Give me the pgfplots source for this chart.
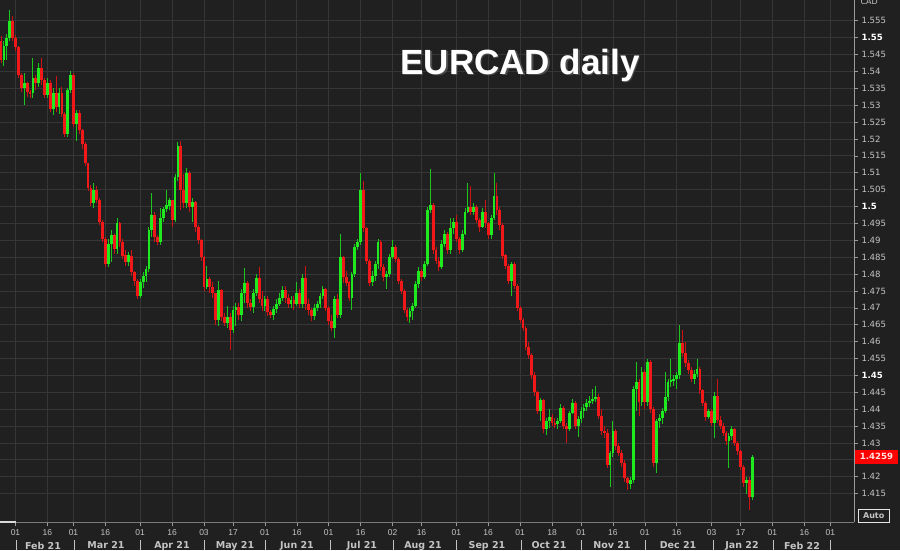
\documentclass[border=0pt]{standalone}
\usepackage{fontspec}
\setmainfont{DejaVu Sans}
\newfontfamily\arialfont{Liberation Sans}
\usepackage{pgfplots}
\usepackage{pgfplotstable}
\pgfplotsset{compat=1.18}
\definecolor{bg}{HTML}{202020}
\definecolor{gridc}{HTML}{363636}
\definecolor{labc}{HTML}{C4C4C4}
\definecolor{cgreen}{HTML}{1FEA1F}
\definecolor{cred}{HTML}{F01818}
\definecolor{axc}{HTML}{9A9A9A}

\pgfplotstableread{
x o h l c
-5 1.5490 1.5505 1.5425 1.5435
-4 1.5435 1.5490 1.5415 1.5475
-3 1.5475 1.5510 1.5435 1.5499
-2 1.5499 1.5581 1.5490 1.5550
-1 1.5550 1.5565 1.5490 1.5500
0 1.5500 1.5508 1.5460 1.5472
1 1.5472 1.5475 1.5380 1.5390
2 1.5390 1.5395 1.5340 1.5350
3 1.5350 1.5395 1.5300 1.5365
4 1.5365 1.5370 1.5325 1.5340
5 1.5340 1.5345 1.5320 1.5335
6 1.5335 1.5440 1.5320 1.5380
7 1.5380 1.5390 1.5345 1.5365
8 1.5365 1.5425 1.5355 1.5410
9 1.5410 1.5440 1.5360 1.5375
10 1.5375 1.5380 1.5320 1.5330
11 1.5330 1.5380 1.5320 1.5365
12 1.5365 1.5375 1.5280 1.5290
13 1.5290 1.5350 1.5270 1.5335
14 1.5335 1.5385 1.5280 1.5295
15 1.5295 1.5350 1.5275 1.5335
16 1.5335 1.5355 1.5265 1.5275
17 1.5275 1.5280 1.5205 1.5215
18 1.5215 1.5350 1.5205 1.5345
19 1.5345 1.5400 1.5335 1.5389
20 1.5389 1.5395 1.5235 1.5244
21 1.5244 1.5285 1.5195 1.5276
22 1.5276 1.5285 1.5215 1.5226
23 1.5226 1.5230 1.5170 1.5185
24 1.5185 1.5190 1.5120 1.5128
25 1.5128 1.5130 1.5045 1.5055
26 1.5055 1.5065 1.5000 1.5011
27 1.5011 1.5070 1.4995 1.5050
28 1.5050 1.5060 1.5010 1.5020
29 1.5020 1.5025 1.4945 1.4955
30 1.4955 1.4960 1.4895 1.4905
31 1.4905 1.4910 1.4820 1.4830
32 1.4830 1.4905 1.4820 1.4890
33 1.4890 1.4930 1.4835 1.4915
34 1.4915 1.4920 1.4860 1.4875
35 1.4875 1.4965 1.4860 1.4950
36 1.4950 1.4955 1.4880 1.4895
37 1.4895 1.4905 1.4845 1.4855
38 1.4855 1.4870 1.4825 1.4835
39 1.4835 1.4865 1.4825 1.4855
40 1.4855 1.4870 1.4795 1.4805
41 1.4805 1.4810 1.4765 1.4780
42 1.4780 1.4785 1.4725 1.4735
43 1.4735 1.4785 1.4730 1.4775
44 1.4775 1.4805 1.4760 1.4795
45 1.4795 1.4825 1.4775 1.4815
46 1.4815 1.4940 1.4805 1.4931
47 1.4931 1.5040 1.4910 1.4975
48 1.4975 1.4985 1.4895 1.4910
49 1.4910 1.4915 1.4885 1.4895
50 1.4895 1.4995 1.4885 1.4965
51 1.4965 1.5000 1.4955 1.4994
52 1.4994 1.5050 1.4985 1.5003
53 1.5003 1.5025 1.4990 1.5018
54 1.5018 1.5020 1.4940 1.4960
55 1.4960 1.5095 1.4955 1.5087
56 1.5087 1.5191 1.5075 1.5180
57 1.5180 1.5195 1.4990 1.5049
58 1.5049 1.5095 1.4995 1.5011
59 1.5011 1.5115 1.4995 1.5100
60 1.5100 1.5105 1.4985 1.4998
61 1.4998 1.5025 1.4955 1.5012
62 1.5012 1.5015 1.4925 1.4939
63 1.4939 1.4945 1.4890 1.4900
64 1.4900 1.4905 1.4840 1.4850
65 1.4850 1.4855 1.4750 1.4761
66 1.4761 1.4825 1.4755 1.4785
67 1.4785 1.4790 1.4745 1.4761
68 1.4761 1.4775 1.4730 1.4743
69 1.4743 1.4745 1.4650 1.4664
70 1.4664 1.4780 1.4645 1.4752
71 1.4752 1.4755 1.4660 1.4672
72 1.4672 1.4685 1.4645 1.4654
73 1.4654 1.4705 1.4640 1.4672
74 1.4672 1.4685 1.4575 1.4634
75 1.4634 1.4705 1.4625 1.4693
76 1.4693 1.4715 1.4645 1.4702
77 1.4702 1.4715 1.4665 1.4678
78 1.4678 1.4755 1.4660 1.4743
79 1.4743 1.4818 1.4715 1.4773
80 1.4773 1.4780 1.4700 1.4714
81 1.4714 1.4725 1.4690 1.4703
82 1.4703 1.4755 1.4685 1.4743
83 1.4743 1.4800 1.4735 1.4788
84 1.4788 1.4820 1.4715 1.4725
85 1.4725 1.4750 1.4690 1.4705
86 1.4705 1.4735 1.4690 1.4725
87 1.4725 1.4735 1.4675 1.4688
88 1.4688 1.4695 1.4670 1.4680
89 1.4680 1.4705 1.4665 1.4697
90 1.4697 1.4725 1.4685 1.4712
91 1.4712 1.4745 1.4705 1.4728
92 1.4728 1.4765 1.4720 1.4752
93 1.4752 1.4765 1.4715 1.4728
94 1.4728 1.4740 1.4700 1.4712
95 1.4712 1.4735 1.4700 1.4722
96 1.4722 1.4735 1.4695 1.4710
97 1.4710 1.4775 1.4705 1.4745
98 1.4745 1.4755 1.4700 1.4711
99 1.4711 1.4800 1.4700 1.4788
100 1.4788 1.4825 1.4695 1.4711
101 1.4711 1.4725 1.4680 1.4694
102 1.4694 1.4700 1.4660 1.4675
103 1.4675 1.4710 1.4665 1.4700
104 1.4700 1.4720 1.4690 1.4710
105 1.4710 1.4745 1.4700 1.4735
106 1.4735 1.4765 1.4725 1.4755
107 1.4755 1.4760 1.4690 1.4700
108 1.4700 1.4705 1.4650 1.4660
109 1.4660 1.4680 1.4630 1.4640
110 1.4640 1.4735 1.4610 1.4725
111 1.4725 1.4740 1.4670 1.4680
112 1.4680 1.4920 1.4670 1.4850
113 1.4850 1.4855 1.4775 1.4790
114 1.4790 1.4810 1.4765 1.4775
115 1.4775 1.4780 1.4720 1.4730
116 1.4730 1.4805 1.4695 1.4800
117 1.4800 1.4890 1.4790 1.4880
118 1.4880 1.4905 1.4870 1.4895
119 1.4895 1.5100 1.4885 1.5050
120 1.5050 1.5075 1.4925 1.4935
121 1.4935 1.4940 1.4830 1.4840
122 1.4840 1.4845 1.4765 1.4775
123 1.4775 1.4810 1.4765 1.4795
124 1.4795 1.4840 1.4780 1.4830
125 1.4830 1.4905 1.4815 1.4895
126 1.4895 1.4900 1.4810 1.4820
127 1.4820 1.4830 1.4780 1.4790
128 1.4790 1.4810 1.4755 1.4800
129 1.4800 1.4860 1.4790 1.4850
130 1.4850 1.4900 1.4845 1.4880
131 1.4880 1.4885 1.4835 1.4845
132 1.4845 1.4850 1.4770 1.4780
133 1.4780 1.4785 1.4740 1.4750
134 1.4750 1.4755 1.4685 1.4695
135 1.4695 1.4700 1.4660 1.4672
136 1.4672 1.4700 1.4655 1.4690
137 1.4690 1.4715 1.4665 1.4705
138 1.4705 1.4780 1.4700 1.4770
139 1.4770 1.4820 1.4760 1.4810
140 1.4810 1.4815 1.4780 1.4790
141 1.4790 1.4840 1.4785 1.4830
142 1.4830 1.5000 1.4825 1.4990
143 1.4990 1.5110 1.4980 1.5005
144 1.5005 1.5010 1.4860 1.4870
145 1.4870 1.4880 1.4830 1.4840
146 1.4840 1.4850 1.4810 1.4820
147 1.4820 1.4900 1.4815 1.4890
148 1.4890 1.4930 1.4880 1.4920
149 1.4920 1.4925 1.4860 1.4870
150 1.4870 1.4965 1.4860 1.4935
151 1.4935 1.4965 1.4920 1.4955
152 1.4955 1.4975 1.4895 1.4905
153 1.4905 1.4910 1.4860 1.4870
154 1.4870 1.4930 1.4865 1.4920
155 1.4920 1.4995 1.4915 1.4985
156 1.4985 1.5070 1.4980 1.5000
157 1.5000 1.5060 1.4975 1.4985
158 1.4985 1.5010 1.4975 1.5000
159 1.5000 1.5005 1.4950 1.4960
160 1.4960 1.4965 1.4925 1.4940
161 1.4940 1.4995 1.4935 1.4985
162 1.4985 1.5020 1.4935 1.4950
163 1.4950 1.4955 1.4905 1.4915
164 1.4915 1.4975 1.4905 1.4965
165 1.4965 1.5100 1.4960 1.5030
166 1.5030 1.5070 1.4975 1.4990
167 1.4990 1.5000 1.4930 1.4945
168 1.4945 1.4950 1.4845 1.4855
169 1.4855 1.4860 1.4815 1.4825
170 1.4825 1.4830 1.4770 1.4780
171 1.4780 1.4835 1.4735 1.4830
172 1.4830 1.4835 1.4755 1.4765
173 1.4765 1.4770 1.4690 1.4700
174 1.4700 1.4705 1.4655 1.4665
175 1.4665 1.4670 1.4630 1.4640
176 1.4640 1.4645 1.4575 1.4585
177 1.4585 1.4600 1.4550 1.4560
178 1.4560 1.4565 1.4490 1.4500
179 1.4500 1.4510 1.4440 1.4450
180 1.4450 1.4455 1.4385 1.4395
181 1.4395 1.4432 1.4365 1.4428
182 1.4428 1.4430 1.4330 1.4340
183 1.4340 1.4375 1.4325 1.4365
184 1.4365 1.4400 1.4345 1.4378
185 1.4378 1.4385 1.4350 1.4360
186 1.4360 1.4375 1.4345 1.4355
187 1.4355 1.4375 1.4340 1.4365
188 1.4365 1.4415 1.4360 1.4405
189 1.4405 1.4410 1.4340 1.4350
190 1.4350 1.4360 1.4300 1.4340
191 1.4340 1.4395 1.4335 1.4390
192 1.4390 1.4430 1.4385 1.4418
193 1.4418 1.4425 1.4340 1.4350
194 1.4350 1.4380 1.4318 1.4370
195 1.4370 1.4405 1.4360 1.4395
196 1.4395 1.4415 1.4375 1.4405
197 1.4405 1.4430 1.4395 1.4418
198 1.4418 1.4440 1.4405 1.4425
199 1.4425 1.4460 1.4415 1.4430
200 1.4430 1.4470 1.4420 1.4436
201 1.4436 1.4445 1.4370 1.4380
202 1.4380 1.4400 1.4325 1.4335
203 1.4335 1.4350 1.4315 1.4330
204 1.4330 1.4340 1.4225 1.4235
205 1.4235 1.4275 1.4170 1.4270
206 1.4270 1.4365 1.4260 1.4335
207 1.4335 1.4340 1.4280 1.4290
208 1.4290 1.4300 1.4260 1.4270
209 1.4270 1.4280 1.4230 1.4240
210 1.4240 1.4250 1.4185 1.4195
211 1.4195 1.4200 1.4160 1.4180
212 1.4180 1.4200 1.4165 1.4190
213 1.4190 1.4470 1.4180 1.4460
214 1.4460 1.4540 1.4395 1.4480
215 1.4480 1.4490 1.4380 1.4420
216 1.4420 1.4525 1.4410 1.4510
217 1.4510 1.4515 1.4400 1.4420
218 1.4420 1.4550 1.4410 1.4540
219 1.4540 1.4545 1.4390 1.4400
220 1.4400 1.4405 1.4230 1.4240
221 1.4240 1.4370 1.4210 1.4365
222 1.4365 1.4385 1.4345 1.4375
223 1.4375 1.4405 1.4355 1.4395
224 1.4395 1.4510 1.4390 1.4435
225 1.4435 1.4490 1.4425 1.4480
226 1.4480 1.4550 1.4465 1.4485
227 1.4485 1.4500 1.4470 1.4490
228 1.4490 1.4510 1.4460 1.4500
229 1.4500 1.4650 1.4490 1.4596
230 1.4596 1.4634 1.4555 1.4566
231 1.4566 1.4600 1.4525 1.4537
232 1.4537 1.4545 1.4505 1.4516
233 1.4516 1.4525 1.4480 1.4490
234 1.4490 1.4515 1.4475 1.4505
235 1.4505 1.4550 1.4495 1.4520
236 1.4520 1.4525 1.4445 1.4456
237 1.4456 1.4460 1.4410 1.4418
238 1.4418 1.4425 1.4365 1.4377
239 1.4377 1.4400 1.4370 1.4395
240 1.4395 1.4400 1.4350 1.4360
241 1.4360 1.4450 1.4315 1.4440
242 1.4440 1.4490 1.4360 1.4368
243 1.4368 1.4380 1.4340 1.4350
244 1.4350 1.4360 1.4320 1.4330
245 1.4330 1.4335 1.4295 1.4305
246 1.4305 1.4330 1.4225 1.4320
247 1.4320 1.4350 1.4310 1.4340
248 1.4340 1.4345 1.4290 1.4300
249 1.4300 1.4305 1.4265 1.4275
250 1.4275 1.4280 1.4220 1.4229
251 1.4229 1.4235 1.4170 1.4181
252 1.4181 1.4200 1.4150 1.4190
253 1.4190 1.4200 1.4101 1.4140
254 1.4140 1.4265 1.4130 1.4259
}\eurcad

\begin{document}
\begin{tikzpicture}
\fill[bg] (0pt,-28pt) rectangle (900pt,522pt);
\useasboundingbox (0pt,-28pt) rectangle (900pt,522pt);
\begin{axis}[
  at={(0pt,0pt)}, anchor=south west,
  scale only axis, width=854pt, height=522pt,
  xmin=-5.345, xmax=289.14, ymin=1.406599, ymax=1.561128,
  axis line style={draw=none},
  xtick pos=bottom, ytick pos=right, tick align=outside,
  major tick length=4pt,
  tick style={color=axc, line width=0.6pt},
  grid=major, grid style={color=gridc, line width=0.7pt},
  xtick={0,11,20,31,43,54,65,75,86,97,108,119,130,140,152,163,174,185,195,206,217,228,240,250,261,272,281},
  xticklabels={01,16,01,16,01,16,03,17,01,16,01,16,02,16,01,16,01,18,01,16,01,16,03,17,01,16,01},
  ytick={1.415,1.42,1.425,1.43,1.435,1.44,1.445,1.45,1.455,1.46,1.465,1.47,1.475,1.48,1.485,1.49,1.495,1.5,1.505,1.51,1.515,1.52,1.525,1.53,1.535,1.54,1.545,1.55,1.555},
  yticklabels={1.415,1.42,{},1.43,1.435,1.44,1.445,\textcolor{white}{\textbf{1.45}},1.455,1.46,1.465,1.47,1.475,1.48,1.485,1.49,1.495,\textcolor{white}{\textbf{1.5}},1.505,1.51,1.515,1.52,1.525,1.53,1.535,1.54,1.545,\textcolor{white}{\textbf{1.55}},1.555},
  xticklabel style={font=\arialfont\fontsize{8.5}{9}\selectfont, text=labc},
  yticklabel style={font=\fontsize{8.6}{10}\selectfont, text=labc, anchor=west},
]
% wicks
\addplot[draw=none, mark=none, restrict expr to domain={\thisrow{c}-\thisrow{o}}{0:1},
  error bars/.cd, y dir=both, y explicit, error mark=none,
  error bar style={draw=cgreen!85!black, line width=1pt}]
  table[x=x, y expr={(\thisrow{h}+\thisrow{l})/2}, y error expr={(\thisrow{h}-\thisrow{l})/2}] {\eurcad};
\addplot[draw=none, mark=none, restrict expr to domain={\thisrow{c}-\thisrow{o}}{-1:0},
  error bars/.cd, y dir=both, y explicit, error mark=none,
  error bar style={draw=cred!85!black, line width=1pt}]
  table[x=x, y expr={(\thisrow{h}+\thisrow{l})/2}, y error expr={(\thisrow{h}-\thisrow{l})/2}] {\eurcad};
% bodies
\addplot[draw=none, mark=none, restrict expr to domain={\thisrow{c}-\thisrow{o}}{0:1},
  error bars/.cd, y dir=both, y explicit, error mark=none,
  error bar style={draw=cgreen, line width=2.8pt}]
  table[x=x, y expr={(\thisrow{o}+\thisrow{c})/2}, y error expr={max(abs(\thisrow{c}-\thisrow{o})/2,0.00018)}] {\eurcad};
\addplot[draw=none, mark=none, restrict expr to domain={\thisrow{c}-\thisrow{o}}{-1:0},
  error bars/.cd, y dir=both, y explicit, error mark=none,
  error bar style={draw=cred, line width=2.8pt}]
  table[x=x, y expr={(\thisrow{o}+\thisrow{c})/2}, y error expr={max(abs(\thisrow{c}-\thisrow{o})/2,0.00018)}] {\eurcad};
\end{axis}
% axis lines
\draw[axc, line width=0.8pt] (854pt,0pt) -- (854pt,522pt);
\draw[axc!80!black, line width=0.8pt] (0pt,0pt) -- (854pt,0pt);
\draw[white!85!black, line width=1.2pt] (0pt,0pt) -- (16pt,0pt);
% last price box
\fill[red] (855pt,58pt) rectangle (898pt,72.5pt);
\node[font=\fontsize{8.6}{10}\selectfont\bfseries, text=white!90!red] at (876.5pt,65.2pt) {1.4259};
% Auto box
\draw[white!90!black, line width=0.7pt] (858.5pt,-0.5pt) rectangle (889pt,13pt);
\node[font=\fontsize{8}{9}\selectfont\bfseries, text=labc] at (873.7pt,6.3pt) {Auto};
% CAD
\node[font=\fontsize{8}{9}\selectfont, text=labc, anchor=west] at (857pt,520pt) {CAD};
% month labels
\foreach \px/\lab in {43/Feb 21,106/Mar 21,172/Apr 21,235/May 21,297/Jun 21,362/Jul 21,423/Aug 21,487/Sep 21,549/Oct 21,612/Nov 21,678/Dec 21,742/Jan 22,802/Feb 22}
  \node[font=\fontsize{9.5}{10}\selectfont\bfseries, text=labc] at (\px pt,-23.5pt) {\lab};
\foreach \px in {16,74,140,204,265,330,393,456,521,581,645,713,773,830}
  \draw[labc, line width=0.6pt] (\px pt,-18pt) -- (\px pt,-28pt);
% title
\node[font=\arialfont\bfseries\fontsize{35}{40}\selectfont, text=black!70] at (521.5pt,455.5pt) {EURCAD daily};
\node[font=\arialfont\bfseries\fontsize{35}{40}\selectfont, text=white] at (520pt,457pt) {EURCAD daily};
\end{tikzpicture}
\end{document}
